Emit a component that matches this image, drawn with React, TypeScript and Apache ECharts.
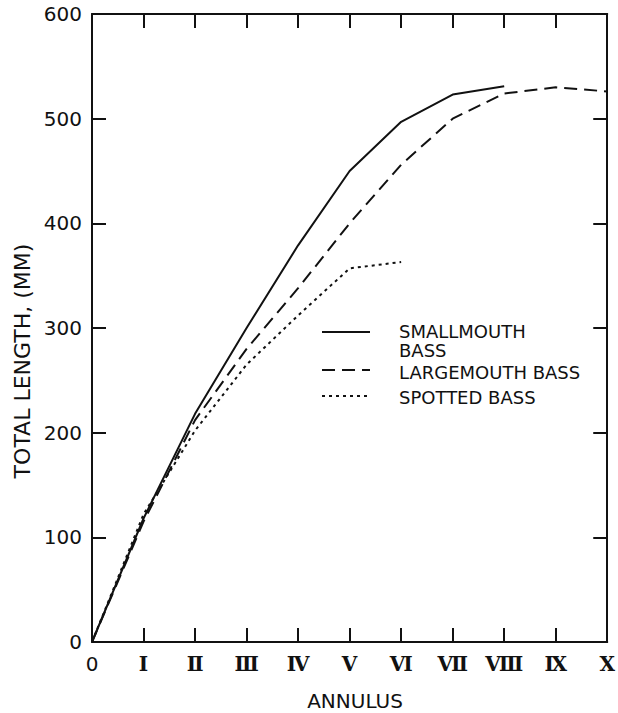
import React, { useEffect, useRef } from "react";
import * as echarts from "echarts";

const annulusLabels = ["0", "Ⅰ", "Ⅱ", "Ⅲ", "Ⅳ", "Ⅴ", "Ⅵ", "Ⅶ", "Ⅷ", "Ⅸ", "Ⅹ"];
const yTicks = [0, 100, 200, 300, 400, 500, 600];
const smallmouth = [0, 118, 218, 300, 379, 450, 497, 523, 531];
const largemouth = [0, 115, 212, 280, 338, 400, 456, 500, 524, 530, 526];
const spotted = [0, 122, 202, 265, 312, 357, 363];
const legendLines = ["SMALLMOUTH", "BASS", "LARGEMOUTH BASS", "SPOTTED BASS"];

const INK = "#111";
const SANS = "DejaVu Sans";

export default function App() {
  const ref = useRef<HTMLDivElement>(null);
  useEffect(() => {
    if (!ref.current) return;
    const chart = echarts.init(ref.current, null, { renderer: "svg" });
    const toPts = (arr: number[]) => arr.map((v, i) => [i, v]);
    const mkLine = () => ({ show: true, onZero: false, lineStyle: { color: INK, width: 2 } });
    const mkTick = () => ({ show: true, inside: true, length: 14, lineStyle: { color: INK, width: 2 } });
    const lineSeries = (name: string, arr: number[], type: any) => ({
      name,
      type: "line",
      data: toPts(arr),
      showSymbol: false,
      symbol: "none",
      smooth: false,
      lineStyle: { color: INK, width: 2, type },
      z: 3,
    });
    const txt = (text: string, x: number, y: number, size: number) => ({
      type: "text",
      x,
      y,
      style: { text, fill: INK, font: `${size}px '${SANS}'`, align: "left", verticalAlign: "middle" },
    });
    chart.setOption({
      animation: false,
      backgroundColor: "#fff",
      grid: { left: 92, right: 10, top: 14, bottom: 71 },
      xAxis: [
        {
          type: "value",
          min: 0,
          max: 10,
          interval: 1,
          position: "bottom",
          axisLine: mkLine(),
          axisTick: mkTick(),
          splitLine: { show: false },
          axisLabel: {
            inside: false,
            margin: 12,
            color: INK,
            fontFamily: "DejaVu Serif",
            fontWeight: "bold",
            fontSize: 20,
            formatter: (v: number) => {
              const i = Math.round(v);
              return i === 0 ? "{z|" + annulusLabels[0] + "}" : annulusLabels[i] ?? "";
            },
            rich: {
              z: { fontFamily: SANS, fontWeight: "normal", fontSize: 20, color: INK },
            },
          },
        },
        {
          type: "value",
          min: 0,
          max: 10,
          interval: 1,
          position: "top",
          axisLine: mkLine(),
          axisTick: mkTick(),
          splitLine: { show: false },
          axisLabel: { show: false },
        },
      ],
      yAxis: [
        {
          type: "value",
          min: yTicks[0],
          max: yTicks[yTicks.length - 1],
          interval: 100,
          position: "left",
          axisLine: mkLine(),
          axisTick: mkTick(),
          splitLine: { show: false },
          axisLabel: { inside: false, margin: 10, color: INK, fontFamily: SANS, fontSize: 20 },
        },
        {
          type: "value",
          min: yTicks[0],
          max: yTicks[yTicks.length - 1],
          interval: 100,
          position: "right",
          axisLine: mkLine(),
          axisTick: mkTick(),
          splitLine: { show: false },
          axisLabel: { show: false },
        },
      ],
      series: [
        lineSeries("SMALLMOUTH BASS", smallmouth, "solid"),
        lineSeries("LARGEMOUTH BASS", largemouth, [13, 7]),
        lineSeries("SPOTTED BASS", spotted, [3, 4]),
      ],
      graphic: [
        {
          type: "text",
          x: 22,
          y: 361,
          rotation: Math.PI / 2,
          style: {
            text: "TOTAL LENGTH, (MM)",
            fill: INK,
            font: `22px '${SANS}'`,
            align: "center",
            verticalAlign: "middle",
          },
        },
        {
          type: "text",
          x: 355,
          y: 701,
          style: {
            text: "ANNULUS",
            fill: INK,
            font: `20px '${SANS}'`,
            align: "center",
            verticalAlign: "middle",
          },
        },
        { type: "line", shape: { x1: 322, y1: 332, x2: 370, y2: 332 }, style: { stroke: INK, lineWidth: 2 } },
        { type: "line", shape: { x1: 322, y1: 370, x2: 370, y2: 370 }, style: { stroke: INK, lineWidth: 2, lineDash: [13, 7] } },
        { type: "line", shape: { x1: 322, y1: 396, x2: 370, y2: 396 }, style: { stroke: INK, lineWidth: 2, lineDash: [3, 4] } },
        txt(legendLines[0], 399, 331, 18),
        txt(legendLines[1], 399, 350, 18),
        txt(legendLines[2], 399, 372, 18),
        txt(legendLines[3], 399, 397, 18),
      ],
    });
    return () => chart.dispose();
  }, []);
  return (
    <div
      ref={ref}
      style={{ position: "absolute", left: 0, top: 0, width: 618, height: 713, background: "#fff" }}
    />
  );
}
